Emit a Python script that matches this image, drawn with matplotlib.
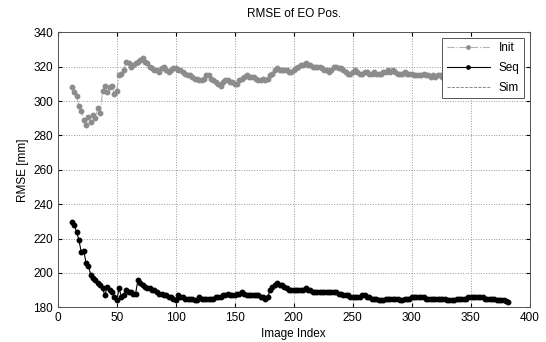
import matplotlib
matplotlib.use("Agg")
import matplotlib.pyplot as plt
import numpy as np

plt.rcParams['font.family'] = ['Liberation Sans', 'DejaVu Sans']

# image index (every second image)
idx = np.arange(12, 384, 2)

# RMSE of initial EO positions [mm]
rmse_init = [
    308, 305, 303, 297, 294, 289, 286, 291, 288, 292,
    290, 296, 293, 306, 309, 305, 308, 309, 304, 306,
    315, 316, 318, 323, 322, 320, 321, 322, 323, 324,
    325, 323, 322, 320, 319, 318, 318, 317, 319, 320,
    318, 317, 318, 319, 319, 318, 318, 317, 316, 315,
    315, 314, 313, 313, 312, 312, 313, 315, 315, 313,
    312, 311, 310, 309, 311, 312, 312, 311, 311, 310,
    310, 312, 313, 314, 315, 314, 314, 314, 313, 312,
    312, 313, 312, 313, 315, 316, 318, 319, 318, 318,
    318, 318, 317, 317, 318, 319, 320, 321, 321, 322,
    321, 321, 320, 320, 320, 320, 319, 318, 318, 317,
    318, 320, 320, 319, 319, 318, 317, 316, 316, 317,
    318, 317, 316, 316, 317, 317, 316, 316, 317, 316,
    316, 316, 317, 317, 318, 317, 318, 317, 316, 316,
    316, 317, 316, 316, 316, 315, 315, 315, 315, 316,
    315, 315, 314, 315, 314, 315, 315, 314, 315, 315,
    316, 315, 315, 314, 315, 316, 316, 315, 315, 314,
    315, 315, 316, 316, 315, 315, 314, 315, 315, 316,
    315, 315, 314, 315, 315, 315,
]

# RMSE after sequential adjustment [mm]
rmse_seq = [
    229.5, 228, 224, 219, 212, 213, 206, 204, 199, 197,
    196, 194, 193, 191, 187, 192, 190, 189, 186, 184,
    191, 186, 187, 190, 189, 189, 188, 188, 196, 194,
    193, 192, 191, 191, 190, 190, 189, 188, 188, 187,
    187, 186, 186, 185, 184, 187, 186, 186, 185, 185,
    185, 185, 184, 184, 186, 185, 185, 185, 185, 185,
    185, 186, 186, 186, 187, 187, 188, 187, 187, 187,
    188, 188, 189, 188, 187, 187, 187, 187, 187, 187,
    186, 186, 185, 186, 190, 192, 193, 194, 193, 193,
    192, 191, 190, 190, 190, 190, 190, 190, 190, 191,
    190, 190, 189, 189, 189, 189, 189, 189, 189, 189,
    189, 189, 189, 188, 188, 187, 187, 187, 186, 186,
    186, 186, 186, 187, 187, 186, 186, 185, 185, 185,
    184, 184, 184, 185, 185, 185, 185, 185, 185, 184,
    184, 185, 185, 185, 186, 186, 186, 186, 186, 186,
    185, 185, 185, 185, 185, 185, 185, 185, 185, 184,
    184, 184, 184, 185, 185, 185, 185, 185, 186, 186,
    186, 186, 186, 186, 186, 185, 185, 185, 185, 185,
    184, 184, 184, 184, 183.5, 183,
]

fig = plt.figure(figsize=(5.46, 3.42), dpi=100)
ax = fig.add_axes([0.1057, 0.1015, 0.8645, 0.804])

ax.plot(idx, rmse_init, linestyle='-.', color='#b4b4b4', linewidth=0.8,
        marker='o', markersize=3.2, markerfacecolor='#8c8c8c',
        markeredgecolor='#8c8c8c', label='Init')
ax.plot(idx, rmse_seq, linestyle='-', color='black', linewidth=0.8,
        marker='o', markersize=3.2, markerfacecolor='black',
        markeredgecolor='black', label='Seq')
ax.plot([], [], linestyle='--', color='#777777', linewidth=0.6, label='Sim')

ax.set_xlim(0, 400)
ax.set_ylim(180, 340)
ax.set_xticks(np.arange(0, 401, 50))
ax.set_yticks(np.arange(180, 341, 20))
ax.grid(True, linestyle=':', color='#999999', linewidth=0.7)
ax.tick_params(direction='in', labelsize=8.5, length=3, top=True, right=True)
for s in ax.spines.values():
    s.set_color('#555555')
    s.set_linewidth(0.7)

ax.set_title('RMSE of EO Pos.', fontsize=8.5, pad=11)
ax.set_xlabel('Image Index', fontsize=8.5, labelpad=3)
ax.set_ylabel('RMSE [mm]', fontsize=8.5, labelpad=3)

leg = ax.legend(loc='upper right', fontsize=8.5, fancybox=False,
                framealpha=1, edgecolor='#555555', handlelength=3.6,
                borderaxespad=0.45, labelspacing=0.65, markerscale=0.75)
leg.get_frame().set_linewidth(0.7)

fig.savefig('out.png', dpi=100)
